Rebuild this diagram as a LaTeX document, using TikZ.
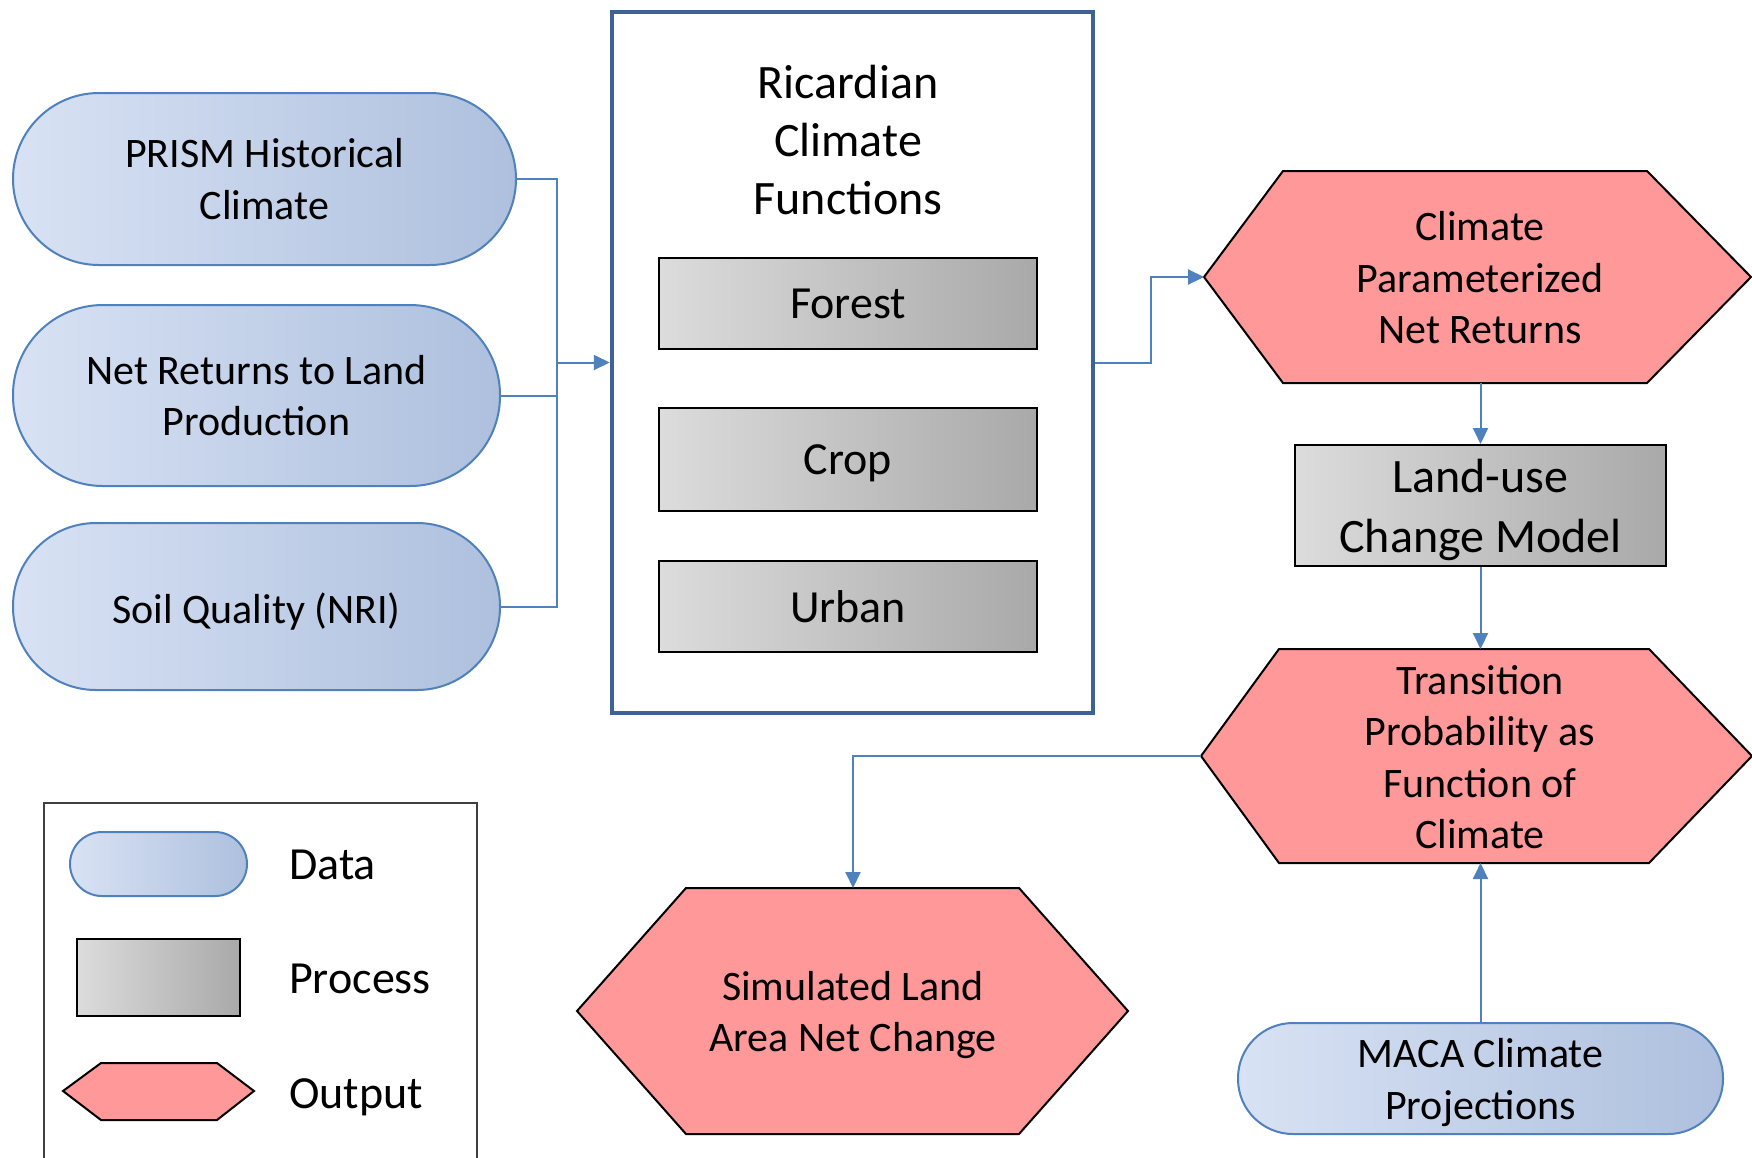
\documentclass[tikz,border=0pt]{standalone}
\usepackage{fontspec}
\setmainfont{Carlito}
\usetikzlibrary{arrows.meta,calc}
\definecolor{dataL}{HTML}{D8E2F4}
\definecolor{dataR}{HTML}{AEC0DE}
\definecolor{dataB}{HTML}{4F81BD}
\definecolor{procL}{HTML}{DCDCDC}
\definecolor{procR}{HTML}{A9A9A9}
\definecolor{outF}{HTML}{FF9999}
\definecolor{connB}{HTML}{4F81BD}
\definecolor{ricB}{HTML}{3E6296}
\definecolor{legB}{HTML}{404040}
\begin{document}
\begin{tikzpicture}[x=1pt,y=-1pt,
  datab/.style={draw=dataB,line width=2pt,left color=dataL,right color=dataR,align=center,inner sep=0pt},
  procb/.style={draw=black,line width=2pt,left color=procL,right color=procR,align=center,inner sep=0pt},
  outb/.style={draw=black,line width=2pt,fill=outF,line join=miter},
  conn/.style={draw=connB,line width=2pt},
  arr/.style={conn,-{Triangle[length=16pt,width=15pt]}},
  txt/.style={align=center,inner sep=0pt},
  fa/.style={font=\fontsize{42}{51.5}\selectfont},
  fb/.style={font=\fontsize{46}{56}\selectfont},
  fc/.style={font=\fontsize{48}{58}\selectfont},
  fd/.style={font=\fontsize{48}{60}\selectfont}
]
\useasboundingbox (0,0) rectangle (1752,1157);
\fill[white] (0,0) rectangle (1752,1157);

% data inputs
\node[datab,fa,minimum width=503pt,minimum height=172pt,rounded corners=86pt] (prism) at (264.5,179) {PRISM Historical\\Climate};
\node[datab,fa,minimum width=487pt,minimum height=181pt,rounded corners=90pt] (net) at (256.5,395.5) {Net Returns to Land\\Production};
\node[datab,fa,minimum width=487pt,minimum height=167pt,rounded corners=83pt] (soil) at (256.5,606.5) {};
\node[txt,fa,text depth=0pt] (soilt) at (256.5,608) {Soil Quality (NRI)};

% Ricardian box
\node[draw=ricB,line width=4.5pt,minimum width=481pt,minimum height=701pt,inner sep=0pt] (ric) at (852.5,362.5) {};
\node[txt,fc] (rictitle) at (848,140) {Ricardian\\Climate\\Functions};
\node[procb,fb,minimum width=378pt,minimum height=91pt] (forest) at (848,303.5) {Forest};
\node[procb,fb,minimum width=378pt,minimum height=103pt,text depth=0pt] (crop) at (848,459.5) {Crop};
\node[procb,fb,minimum width=378pt,minimum height=91pt] (urban) at (848,606.5) {Urban};

% Climate parameterized net returns
\coordinate (cp-w) at (1204,277);
\coordinate (cp-s) at (1480.5,383);
\draw[outb] (cp-w) -- (1283,171) -- (1647,171) -- (1751,277) -- (1647,383) -- (1283,383) -- cycle;
\node[txt,fa] (cp) at (1480,278) {Climate\\Parameterized\\Net Returns};

% Land-use change model
\node[procb,minimum width=371pt,minimum height=121pt] (landuse) at (1480.5,505.5) {};
\node[txt,fd] (landuset) at (1480.5,510) {Land-use\\Change Model};

% Transition probability
\coordinate (tp-w) at (1201,756);
\coordinate (tp-n) at (1480.5,649);
\coordinate (tp-s) at (1480.5,863);
\draw[outb] (tp-w) -- (1279,649) -- (1649,649) -- (1752,756) -- (1649,863) -- (1279,863) -- cycle;
\node[txt,fa] (tp) at (1480,757) {Transition\\Probability as\\Function of\\Climate};

% Simulated land area net change
\coordinate (sim-n) at (853,888);
\draw[outb] (577,1011) -- (686,888) -- (1019,888) -- (1128,1011) -- (1019,1134) -- (686,1134) -- cycle;
\node[txt,fa] (sim) at (853,1015) {Simulated Land\\Area Net Change};

% MACA
\node[datab,minimum width=485pt,minimum height=111pt,rounded corners=55pt] (maca) at (1480.5,1078.5) {};
\node[txt,fa] (macat) at (1480.5,1082.5) {MACA Climate\\Projections};

% connectors
\coordinate (junc) at (557,362.5);
\draw[conn] (prism.east) -| (junc);
\draw[conn] (soil.east) -| (junc);
\draw[conn] (net.east) -- (net.east -| junc);
\draw[arr] (junc) -- (ric.west);
\draw[arr] (ric.east) -- ++(56,0) |- (cp-w);
\draw[arr] (cp-s) -- (landuse.north);
\draw[arr] (landuse.south) -- (tp-n);
\draw[arr] (tp-w) -| (sim-n);
\draw[arr] (maca.north) -- (tp-s);

% legend
\draw[draw=legB,line width=1.5pt] (44,1160) -- (44,803) -- (477,803) -- (477,1160);
\node[datab,minimum width=177pt,minimum height=64pt,rounded corners=32pt] (ldata) at (158.5,864) {};
\node[procb,minimum width=163pt,minimum height=77pt] (lproc) at (158.5,977.5) {};
\draw[outb] (63,1091) -- (101,1063) -- (217,1063) -- (254,1091) -- (217,1120) -- (101,1120) -- cycle;
\node[txt,fb,anchor=base west] (ldatat) at (289,879) {Data};
\node[txt,fb,anchor=base west] (lproct) at (289,993) {Process};
\node[txt,fb,anchor=base west] (loutt) at (289,1108) {Output};
\end{tikzpicture}
\end{document}
